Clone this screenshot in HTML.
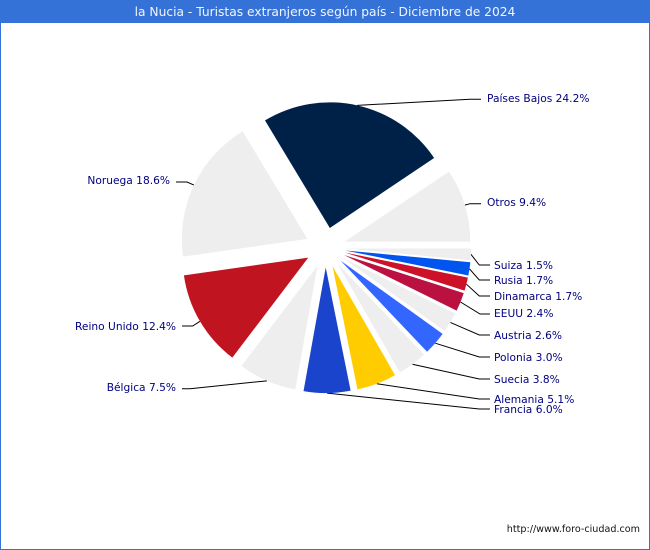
<!DOCTYPE html>
<html lang="es">
<head>
<meta charset="utf-8">
<title>la Nucia - Turistas extranjeros según país</title>
<style>
html,body{margin:0;padding:0;background:#fff;}
#chart{display:block;width:650px;height:550px;}
text{font-family:"DejaVu Sans","Liberation Sans",sans-serif;}
</style>
</head>
<body>
<svg id="chart" xmlns="http://www.w3.org/2000/svg" width="650" height="550" viewBox="0 0 650 550">
  <rect x="0.5" y="0.5" width="649" height="549" fill="#ffffff" stroke="#3572d8" stroke-width="1"/>
  <rect x="0" y="0" width="650" height="23" fill="#3572d8"/>
  <text x="325" y="16" text-anchor="middle" font-size="12.25" fill="#f2f5fc">la Nucia - Turistas extranjeros según país - Diciembre de 2024</text>
  <g id="leaders"></g>
  <g id="slices"></g>
  <g id="labels"></g>
  <text x="640" y="532" text-anchor="end" font-size="9.6" fill="#111111">http://www.foro-ciudad.com</text>
</svg>
<script>
const categories = ["Suiza","Rusia","Dinamarca","EEUU","Austria","Polonia","Suecia","Alemania","Francia","Bélgica","Reino Unido","Noruega","Países Bajos","Otros"];
const values = [1.5,1.7,1.7,2.4,2.6,3.0,3.8,5.1,6.0,7.5,12.4,18.6,24.2,9.4];
const colors = ["#eeeeee","#0055ee","#cc1128","#bb1140","#eeeeee","#3366ff","#eeeeee","#ffcc00","#1a44cc","#eeeeee","#c01520","#eeeeee","#002147","#eeeeee"];
const labelLineY = [265,280,296,314,335,357,379,399,409,388.7,326,182,99.3,203.7];
const labelTextY = [265,280,296,313,335,357,379,399,409,387,326,180,98,202];
const elbowX = [479.3,479.3,479.3,480,479.3,479.3,479.3,479.3,479.3,190,192.7,187,470,470];

const svgNS = "http://www.w3.org/2000/svg";
const centerX = 325.5, centerY = 247.5, radius = 125.6, explode = 20, startAngle = 90;
const total = values.reduce((a, b) => a + b, 0);
const angleOf = v => v / total * 360;
const dirOf = a => { const t = a * Math.PI / 180; return [Math.sin(t), -Math.cos(t)]; };

const sliceLayer = document.getElementById("slices");
const leaderLayer = document.getElementById("leaders");
const labelLayer = document.getElementById("labels");

let cursor = startAngle;
values.forEach((value, i) => {
  const a0 = cursor, a1 = cursor + angleOf(value), mid = (a0 + a1) / 2;
  cursor = a1;
  const m = dirOf(mid), d0 = dirOf(a0), d1 = dirOf(a1);
  const ax = centerX + explode * m[0], ay = centerY + explode * m[1];
  const large = a1 - a0 > 180 ? 1 : 0;

  const slice = document.createElementNS(svgNS, "path");
  slice.setAttribute("d", `M${ax} ${ay}L${ax + radius * d0[0]} ${ay + radius * d0[1]}A${radius} ${radius} 0 ${large} 1 ${ax + radius * d1[0]} ${ay + radius * d1[1]}Z`);
  slice.setAttribute("fill", colors[i]);
  
  
  sliceLayer.appendChild(slice);

  const rightSide = i < 9 || i >= 12;
  const lineEnd = rightSide ? (i >= 12 ? 481 : 490) : (i === 11 ? 176 : 182);
  const textX = rightSide ? lineEnd + (i >= 12 ? 6 : 4) : lineEnd - 6;

  const leader = document.createElementNS(svgNS, "polyline");
  leader.setAttribute("points", `${ax + radius * m[0]},${ay + radius * m[1]} ${elbowX[i]},${labelLineY[i]} ${lineEnd},${labelLineY[i]}`);
  leader.setAttribute("fill", "none");
  leader.setAttribute("stroke", "#000000");
  leader.setAttribute("stroke-width", "1");
  
  
  leaderLayer.appendChild(leader);

  const label = document.createElementNS(svgNS, "text");
  label.setAttribute("x", textX);
  label.setAttribute("y", labelTextY[i] + 4);
  label.setAttribute("text-anchor", rightSide ? "start" : "end");
  label.setAttribute("font-size", "10.65");
  label.setAttribute("fill", "#000080");
  
  
  label.textContent = categories[i] + " " + value.toFixed(1) + "%";
  labelLayer.appendChild(label);
});
</script>
</body>
</html>
